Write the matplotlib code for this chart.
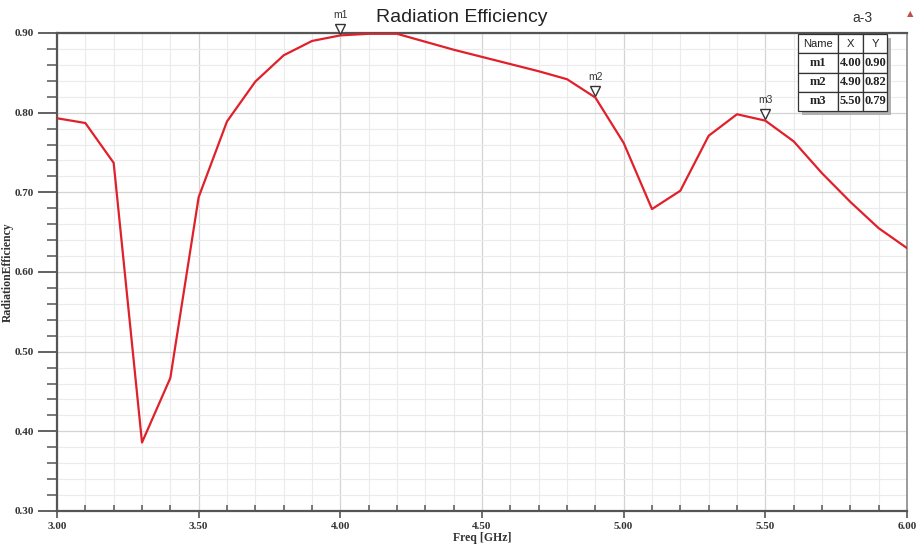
import matplotlib
matplotlib.use("Agg")
import matplotlib.pyplot as plt
from matplotlib import font_manager
from matplotlib.ticker import MultipleLocator, FormatStrFormatter
from matplotlib.transforms import offset_copy
from matplotlib.patches import Rectangle

freq = [3.0, 3.1, 3.2, 3.3, 3.4, 3.5, 3.6, 3.7, 3.8, 3.9, 4.0,
        4.1, 4.2, 4.3, 4.4, 4.5, 4.6, 4.7, 4.8, 4.9, 5.0,
        5.1, 5.2, 5.3, 5.4, 5.5, 5.6, 5.7, 5.8, 5.9, 6.0]
eff = [0.793, 0.787, 0.737, 0.386, 0.467, 0.694, 0.789, 0.839, 0.872, 0.890, 0.897,
       0.899, 0.899, 0.889, 0.879, 0.870, 0.861, 0.852, 0.842, 0.819, 0.762,
       0.679, 0.702, 0.771, 0.798, 0.790, 0.764, 0.724, 0.688, 0.655, 0.630]

marker_names = ["m1", "m2", "m3"]
marker_freq = [4.0, 4.9, 5.5]

installed = {f.name for f in font_manager.fontManager.ttflist}
sans = "Liberation Sans Narrow" if "Liberation Sans Narrow" in installed else "Liberation Sans"
serif = "Liberation Serif"

fig = plt.figure(figsize=(9.19, 5.46), dpi=100)
ax = fig.add_axes([57 / 919, 35 / 546, 850 / 919, 478 / 546])

ax.plot(freq, eff, color="#e0202a", lw=1.6, zorder=3)

ax.set_xlim(3.0, 6.0)
ax.set_ylim(0.30, 0.90)
ax.xaxis.set_major_locator(MultipleLocator(0.5))
ax.xaxis.set_minor_locator(MultipleLocator(0.1))
ax.yaxis.set_major_locator(MultipleLocator(0.1))
ax.yaxis.set_minor_locator(MultipleLocator(0.02))
ax.xaxis.set_major_formatter(FormatStrFormatter("%.2f"))
ax.yaxis.set_major_formatter(FormatStrFormatter("%.2f"))

ax.grid(which="major", color="#d4d4d4", lw=0.9)
ax.grid(which="minor", color="#ebebeb", lw=0.8)
ax.set_axisbelow(True)

ax.tick_params(axis="y", which="major", direction="out", length=14, width=1.3, color="#555555", pad=2.5)
ax.tick_params(axis="y", which="minor", direction="out", length=7, width=1.1, color="#555555")
ax.tick_params(axis="x", which="major", direction="out", length=5, width=1.2, color="#555555", pad=3)
ax.tick_params(axis="x", which="minor", direction="in", length=4, width=1.1, color="#555555")
for lab in ax.get_xticklabels() + ax.get_yticklabels():
    lab.set_fontfamily(serif)
    lab.set_fontweight("bold")
    lab.set_fontsize(8)
    lab.set_color("#333333")

for side in ["left", "bottom", "top"]:
    ax.spines[side].set_color("#555555")
    ax.spines[side].set_linewidth(1.6)
ax.spines["right"].set_color("#8a8a8a")
ax.spines["right"].set_linewidth(1.2)

ax.set_xlabel("Freq [GHz]", fontfamily=serif, fontweight="bold", fontsize=8.5,
              color="#333333", labelpad=1)
ax.set_ylabel("RadiationEfficiency", fontfamily=serif, fontweight="bold", fontsize=8.5,
              color="#333333")
ax.yaxis.set_label_coords(-43 / 850, 0.5)

fig.text(462 / 919, 1 - 18 / 546, "Radiation Efficiency", fontfamily=sans,
         fontsize=14, ha="center", va="center", color="#222222")
fig.text(852 / 919, 1 - 18 / 546, "a-3", fontfamily=sans, fontsize=10,
         ha="left", va="center", color="#333333")
fig.text(910 / 919, 1 - 14 / 546, "\u25b2", fontsize=6, ha="center", va="center",
         color="#c0504d")

# markers sit just above the curve with their tip on it
tri_tr = offset_copy(ax.transData, fig=fig, y=4.5, units="points")
lab_tr = offset_copy(ax.transData, fig=fig, y=11, units="points")
marker_vals = []
for name, mx in zip(marker_names, marker_freq):
    my = eff[freq.index(mx)]
    marker_vals.append(my)
    ax.plot([mx], [my], marker="v", ms=7, mfc="white", mec="#333333", mew=1.0,
            transform=tri_tr, clip_on=False, zorder=5)
    ax.text(mx, my, name, transform=lab_tr, fontfamily=sans, fontsize=7.5,
            ha="center", va="bottom", color="#333333", clip_on=False)

# marker table in the top right corner
tx, ty, tw, th = 798, 34, 89, 77
shadow = Rectangle(((tx - 57 + 4) / 850, (511 - ty - th - 4) / 478), tw / 850, th / 478,
                   transform=ax.transAxes, facecolor="#b0b0b0", edgecolor="none", zorder=6)
ax.add_patch(shadow)
rows = [[n, "%.2f" % x, "%.2f" % y] for n, x, y in zip(marker_names, marker_freq, marker_vals)]
table = ax.table(cellText=rows, colLabels=["Name", "X", "Y"],
                 colWidths=[40 / 89, 25 / 89, 24 / 89],
                 bbox=[(tx - 57) / 850, (511 - ty - th) / 478, tw / 850, th / 478],
                 cellLoc="center", zorder=7)
table.auto_set_font_size(False)
for (r, c), cell in table.get_celld().items():
    cell.set_edgecolor("#333333")
    cell.set_linewidth(0.9)
    cell.set_facecolor("white")
    t = cell.get_text()
    t.set_color("#222222")
    if r == 0:
        t.set_fontfamily(sans)
        t.set_fontsize(8)
    else:
        t.set_fontfamily(serif)
        t.set_fontweight("bold")
        t.set_fontsize(9)

fig.savefig("out.png", dpi=100)
